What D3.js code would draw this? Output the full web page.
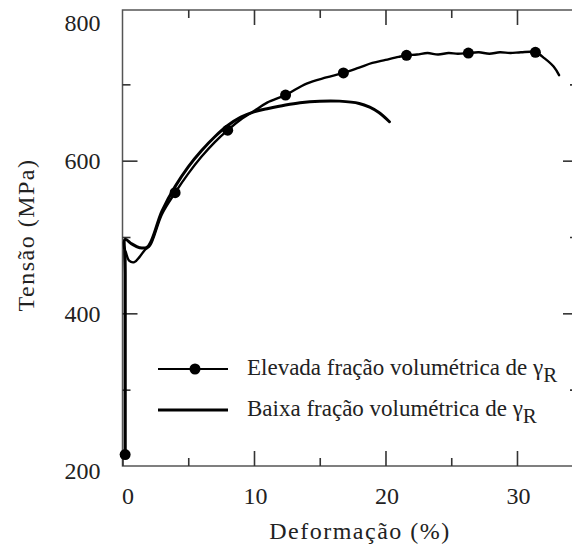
<!DOCTYPE html>
<html>
<head>
<meta charset="utf-8">
<script src="https://cdn.jsdelivr.net/npm/d3@7"></script>
<style>
  html, body { margin: 0; padding: 0; background: #fff; }
  svg { display: block; }
</style>
</head>
<body>
<script>
// Tensile curves: stress (MPa) vs strain (%) for two retained-austenite fractions
const strainHigh = [0.2, 0.2, 0.2, 0.5, 0.9, 1.3, 1.7, 2.1, 3.0, 4.0, 5.0, 6.0, 7.0, 8.0, 9.0, 10.0, 11.0, 12.4, 14.0, 15.5, 16.8, 18.0, 19.0, 20.0, 21.0, 21.6, 22.4, 23.2, 24.0, 24.8, 25.5, 26.3, 27.1, 27.9, 28.7, 29.5, 30.3, 31.4, 32.1, 32.8, 33.2];
const stressHigh = [215, 450, 482, 469, 467, 474, 483, 489, 530, 558, 583, 605, 624, 640, 654, 665, 676, 686, 701, 709, 715, 722, 728, 732, 736, 738, 739, 741, 739, 741, 740, 741, 742, 740, 742, 741, 742, 742, 734, 723, 712];

const markStrain = [0.2, 4.0, 8.0, 12.4, 16.8, 21.6, 26.3, 31.4];
const markStress = [215, 558, 640, 686, 715, 738, 741, 742];

const strainLow = [0.2, 0.2, 0.2, 0.7, 1.3, 1.9, 3.0, 4.0, 5.0, 6.0, 7.0, 8.0, 9.0, 10.0, 11.0, 12.4, 13.5, 15.0, 16.5, 18.0, 18.8, 19.5, 20.3];
const stressLow = [220, 470, 497, 491, 486, 487, 534, 566, 592, 613, 631, 646, 657, 664, 668, 673, 676, 678, 678, 675, 670, 663, 651];

const xMajor = [0, 10, 20, 30];
const xMinor = [5, 15, 25];
const yMajor = [200, 400, 600, 800];
const yMinor = [300, 500, 700];

const legendLabels = ["Elevada fração volumétrica de ", "Baixa fração volumétrica de "];

const W = 572, H = 547;
const svg = d3.select("body").append("svg").attr("width", W).attr("height", H);

const x = d3.scaleLinear().domain([0, 34.64]).range([122.5, 578]);
const y = d3.scaleLinear().domain([200, 800]).range([466, 8]);

const frameColor = "#555";
const serif = '"Liberation Serif", "Times New Roman", Times, serif';

// frame
svg.append("rect")
  .attr("x", x(0)).attr("y", 10)
  .attr("width", x(34.64) - x(0)).attr("height", y(200) - 10)
  .attr("fill", "none").attr("stroke", frameColor).attr("stroke-width", 1.5);

function styleAxis(g) {
  g.select(".domain").remove();
  g.selectAll(".tick line").attr("stroke", "#333").attr("stroke-width", 1.6);
  g.selectAll(".tick text")
    .style("font-family", serif).style("font-size", "24px")
    .attr("fill", "#222");
}

// bottom axis
svg.append("g").attr("transform", `translate(0,${y(200)})`)
  .call(d3.axisBottom(x).tickValues(xMajor).tickSize(-15).tickPadding(21).tickFormat(d3.format("d")))
  .call(styleAxis)
  .call(g => g.selectAll(".tick text").attr("dx", d => d === 0 ? 5 : 1));
svg.append("g").attr("transform", `translate(0,${y(200)})`)
  .call(d3.axisBottom(x).tickValues(xMinor).tickSize(-8).tickFormat(""))
  .call(styleAxis);

// top axis ticks
svg.append("g").attr("transform", "translate(0,10)")
  .call(d3.axisTop(x).tickValues(xMajor.slice(1)).tickSize(-15).tickFormat(""))
  .call(styleAxis);
svg.append("g").attr("transform", "translate(0,10)")
  .call(d3.axisTop(x).tickValues(xMinor).tickSize(-8).tickFormat(""))
  .call(styleAxis);

// left axis
svg.append("g").attr("transform", `translate(${x(0)},0)`)
  .call(d3.axisLeft(y).tickValues(yMajor).tickSize(-15).tickPadding(22).tickFormat(d3.format("d")))
  .call(styleAxis)
  .call(g => g.selectAll(".tick line").filter(d => d === 200 || d === 800).remove())
  .call(g => g.selectAll(".tick text").attr("dy", d => d === 800 ? "0.95em" : d === 200 ? "0.5em" : "0.32em"));
svg.append("g").attr("transform", `translate(${x(0)},0)`)
  .call(d3.axisLeft(y).tickValues(yMinor).tickSize(-8).tickFormat(""))
  .call(styleAxis);

// right axis ticks
svg.append("g").attr("transform", `translate(${x(34.64)},0)`)
  .call(d3.axisRight(y).tickValues([400, 600]).tickSize(-15).tickFormat(""))
  .call(styleAxis);
svg.append("g").attr("transform", `translate(${x(34.64)},0)`)
  .call(d3.axisRight(y).tickValues(yMinor).tickSize(-8).tickFormat(""))
  .call(styleAxis);

// axis titles
svg.append("text")
  .attr("x", 360).attr("y", 539)
  .attr("text-anchor", "middle")
  .style("font-family", serif).style("font-size", "24px").style("letter-spacing", "1.5px")
  .attr("fill", "#222")
  .text("Deformação (%)");
svg.append("text")
  .attr("transform", "translate(34,235) rotate(-90)")
  .attr("text-anchor", "middle")
  .style("font-family", serif).style("font-size", "24px").style("letter-spacing", "1.5px")
  .attr("fill", "#222")
  .text("Tensão (MPa)");

// curves
const line = d3.line().x(d => x(d[0])).y(d => y(d[1])).curve(d3.curveCatmullRom.alpha(0.5));

const lowData = strainLow.map((s, i) => [s, stressLow[i]]);
const highData = strainHigh.map((s, i) => [s, stressHigh[i]]);

svg.append("path").datum(lowData)
  .attr("d", line).attr("fill", "none").attr("stroke", "#000")
  .attr("stroke-width", 3).attr("stroke-linejoin", "round").attr("stroke-linecap", "round");

svg.append("path").datum(highData)
  .attr("d", line).attr("fill", "none").attr("stroke", "#000")
  .attr("stroke-width", 2.4).attr("stroke-linejoin", "round").attr("stroke-linecap", "round");

svg.append("g").selectAll("circle")
  .data(markStrain.map((s, i) => [s, markStress[i]]))
  .join("circle")
  .attr("cx", d => x(d[0])).attr("cy", d => y(d[1])).attr("r", 5.5)
  .attr("fill", "#000");

// legend
const legend = svg.append("g");
const legY = [369, 410];
legend.append("line").attr("x1", 158).attr("x2", 228).attr("y1", legY[0]).attr("y2", legY[0])
  .attr("stroke", "#000").attr("stroke-width", 2.2);
legend.append("circle").attr("cx", 195).attr("cy", legY[0]).attr("r", 5.5).attr("fill", "#000");
legend.append("line").attr("x1", 158).attr("x2", 228).attr("y1", legY[1]).attr("y2", legY[1])
  .attr("stroke", "#000").attr("stroke-width", 3);

legendLabels.forEach((lab, i) => {
  const t = legend.append("text")
    .attr("x", 247).attr("y", legY[i] + 6)
    .style("font-family", serif).style("font-size", "23px")
    .attr("fill", "#222");
  t.append("tspan").text(lab);
  t.append("tspan").text("γ");
  t.append("tspan").attr("dy", 7).style("font-size", "21px").text("R");
});
</script>
</body>
</html>
